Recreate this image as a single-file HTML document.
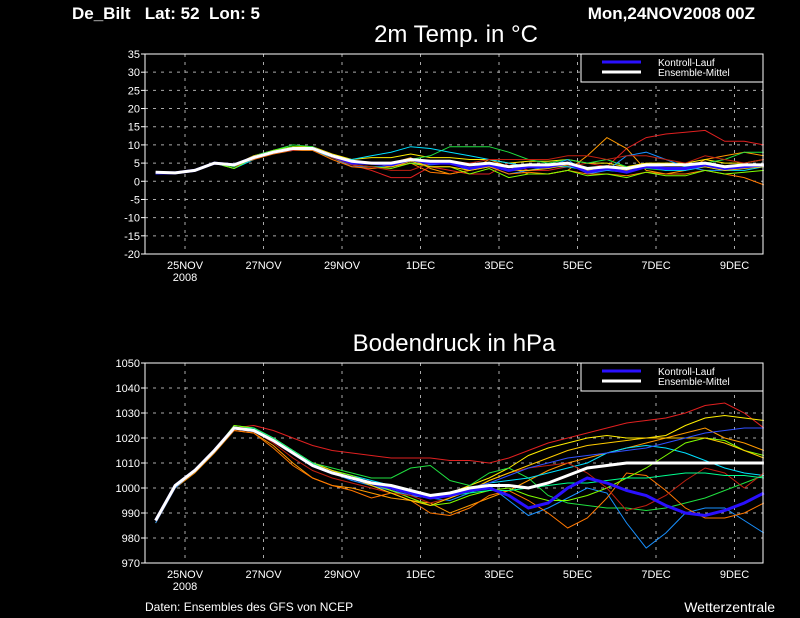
<!DOCTYPE html>
<html><head><meta charset="utf-8">
<style>
html,body{margin:0;padding:0;background:#000;}
svg{display:block;}
text{font-family:"Liberation Sans",sans-serif;fill:#fff;}
</style></head>
<body>
<svg id="c" width="800" height="618" viewBox="0 0 800 618" xmlns="http://www.w3.org/2000/svg">
<rect x="0" y="0" width="800" height="618" fill="#000"/>
<text x="72" y="19" font-size="17" font-weight="bold" xml:space="preserve">De_Bilt   Lat: 52  Lon: 5</text>
<text x="755" y="19" font-size="17" font-weight="bold" text-anchor="end">Mon,24NOV2008 00Z</text>
<text x="456" y="42" font-size="24" text-anchor="middle">2m Temp. in °C</text>
<text x="454" y="351" font-size="24" text-anchor="middle">Bodendruck in hPa</text>
<text x="145" y="611" font-size="12">Daten: Ensembles des GFS von NCEP</text>
<text x="775" y="612" font-size="14" text-anchor="end">Wetterzentrale</text>
<g id="g1"></g>
<g id="g2"></g>
</svg>
<script>
const dayStart = 0.25, dayStep = 0.5;
const dateTicks = [1,3,5,7,9,11,13,15];
const dateLabels = ["25NOV","27NOV","29NOV","1DEC","3DEC","5DEC","7DEC","9DEC"];
const tempTicks = [-20,-15,-10,-5,0,5,10,15,20,25,30,35];
const presTicks = [970,980,990,1000,1010,1020,1030,1040,1050];
const memberColors = ["#e02020","#ff9900","#ffee00","#20e040","#00e0ff","#1890ff","#ff7700","#80ff00","#c02010","#ffcc00","#00ff90","#3050ff"];

const tempMean = [2.5,2.3,3,5,4.5,6.5,8,9,9,7,5.5,5,5,6,5.5,5.5,4.5,5,4,4.5,4.5,5,3.5,4,3.5,4.5,4.5,4.5,5,4,4.5,4.5];
const tempControl = [2.3,2.3,3,5,4.5,6.5,8,9,9,7,5,5,4.5,6,5,5,3.5,4.5,3,4,4,5,2.5,3.5,2.5,4,3.5,3.5,4.5,3.5,4,4.5];
const tempM1 = [2.5,2.3,3,5,4,6,8,9,9,6.5,4.5,3,1,1,4,3,2,2,5,3,3,4,5,4,9,12,13,13.5,14,11,11,10];
const tempM2 = [2.5,2.3,3,5,4.5,6.5,8,9,9,7,5,5,5,6.5,3.5,2,3,6,4,2,2,3,7,12,9,3,2,3,6,7,8,7];
const tempM3 = [2.5,2.3,3,5,4.5,7,8.5,9.5,9.5,7.5,6,6.5,6.5,7.5,6.5,6.5,6,6,5,5.5,5.5,6,5,5,4,5,5,5,6,5,5,6];
const tempM4 = [2.5,2.3,3,5,4,7,8.5,10,9.5,7,5,5,5,6,7,9.5,9.5,9.5,8,6,5,6,5,6,4,3.5,3,4,5,6,8,8];
const tempM5 = [2.5,2.3,3,5,3.5,6,8,8.5,8.5,6.5,6,7,8,9.5,9,8,7,6,5,4,4,4,3,3,2.5,4,3,3,4,3,3,4];
const tempM6 = [2,2.3,3,5,4.5,6.5,8,9,9,6.5,4,4,4,5,4.5,5,3,4,2,3,4,6,2,3,7,8,6,4,3,3,4,4];
const tempM7 = [2.5,2.3,3,5,4.5,6,7.5,8.5,8.5,6,4,3.5,4,5,2.5,2,3,4,2,2.5,2,3,2,2,1.5,2.5,2,2,3,2,1,-1];
const tempM8 = [2.5,2.3,3,5,3.5,6.5,8.5,9.5,9,6.5,4.5,4,3.5,5,4,4,2,3.5,1,2,2,3,1.5,2,1,2.5,1.5,1.5,3,2,2.5,3];
const tempM9 = [2.5,2.3,3,5,4.5,6.5,8,8.5,9,6.5,4.5,4,3,3,5,5.5,5,6,6,6,6,7,7,6,7,7,6,5,7,6,5,6];
const tempM10 = [2.5,2.3,3,5,4.5,7,8,9,9,7,5,5,4,5.5,4,4,3,4,3,3,3.5,4.5,3,3.5,3,4,3.5,3.5,4,3,3.5,4];
const tempMembers = [tempM1,tempM2,tempM3,tempM4,tempM5,tempM6,tempM7,tempM8,tempM9,tempM10];

const presMean = [987,1001,1007,1015,1024,1023,1019,1014,1009,1006,1004,1002,1001,999,997,998,1000,1001,1001,1000,1002,1005,1008,1009,1010,1010,1010,1010,1010,1010,1010,1010];
const presControl = [987,1001,1007,1015,1024,1023,1019,1014,1009,1006,1004,1002,1000,998,996,997,999,1000,997,992,994,1000,1004,1002,999,997,993,990,989,991,994,998];
const presM1 = [987,1001,1007,1015,1024,1025,1023,1020,1017,1015,1014,1013,1012,1012,1012,1011,1011,1010,1012,1015,1018,1020,1022,1024,1026,1027,1028,1030,1033,1034,1030,1024];
const presM2 = [986,1000,1006,1014,1023,1022,1017,1010,1004,1001,1000,998,996,995,994,990,993,996,999,1003,1007,1010,1012,1014,1016,1018,1020,1022,1024,1020,1018,1015];
const presM3 = [987,1001,1007,1015,1024,1024,1020,1015,1010,1006,1004,1002,999,997,996,998,1001,1004,1008,1013,1016,1018,1020,1021,1020,1020,1021,1025,1028,1029,1028,1027];
const presM4 = [987,1001,1007,1015,1025,1024,1020,1015,1010,1008,1006,1004,1004,1008,1009,1003,1001,1006,1008,1004,997,994,993,992,992,991,992,994,996,999,1002,1005];
const presM5 = [987,1001,1007,1015,1024,1023,1019,1014,1010,1007,1005,1003,1001,999,996,997,1000,1002,1003,1004,1006,1008,1010,1014,1016,1017,1016,1014,1011,1008,1006,1005];
const presM6 = [986,1000,1007,1015,1024,1023,1019,1014,1009,1006,1003,1001,999,997,996,995,998,1001,995,989,992,996,1000,998,986,976,982,990,992,992,987,982];
const presM7 = [987,1001,1007,1015,1023,1022,1016,1009,1004,1001,999,996,998,995,990,989,992,997,999,995,990,984,988,996,1006,1005,999,992,988,988,990,994];
const presM8 = [987,1001,1007,1015,1025,1024,1020,1015,1010,1007,1005,1002,999,996,993,994,997,999,1000,997,995,995,997,1000,1004,1008,1013,1018,1020,1019,1015,1013];
const presM9 = [987,1001,1007,1015,1024,1023,1018,1012,1007,1004,1002,1000,998,997,994,996,999,1003,1006,1008,1009,1010,1006,1000,991,993,997,1003,1008,1006,1000,1006];
const presM10 = [987,1001,1007,1015,1024,1024,1020,1015,1010,1007,1004,1001,998,995,993,996,999,1003,1006,1009,1012,1015,1017,1018,1019,1020,1020,1020,1020,1018,1015,1012];
const presM11 = [987,1001,1007,1015,1024,1024,1020,1015,1010,1006,1004,1002,1000,998,997,997,998,999,999,1000,1001,1002,1002,1003,1004,1004,1005,1006,1006,1005,1005,1004];
const presM12 = [987,1001,1007,1015,1024,1023,1019,1014,1009,1006,1004,1002,1000,998,997,998,1000,1002,1005,1008,1010,1012,1013,1014,1015,1016,1018,1020,1022,1023,1024,1024];
const presMembers = [presM1,presM2,presM3,presM4,presM5,presM6,presM7,presM8,presM9,presM10,presM11,presM12];

const NS = "http://www.w3.org/2000/svg";
function mk(tag, attrs, parent){ const e=document.createElementNS(NS,tag); for(const k in attrs) e.setAttribute(k,attrs[k]); parent.appendChild(e); return e; }
const X0 = 145, X1 = 763;
function xScale(d){ return 145.75 + d*39.25; }

function panel(g, top, bottom, vmin, vmax, ticks, members, ctrl, mean, prefix){
  const y = v => bottom - (v - vmin)/(vmax - vmin)*(bottom - top);
  ticks.forEach((t,i)=>{
    const l = mk("line",{x1:X0,x2:X1,y1:y(t),y2:y(t),stroke:"#aaa","stroke-width":1,"stroke-dasharray":"3,5"},g);
    
    
    const tk = mk("line",{x1:X0-4,x2:X0,y1:y(t),y2:y(t),stroke:"#fff"},g);
    
    
    const tx = mk("text",{x:X0-5,y:y(t)+4,"font-size":11,"text-anchor":"end"},g);
    tx.textContent = t;
    
    
  });
  dateTicks.forEach((d,i)=>{
    const xx = xScale(d);
    const l = mk("line",{x1:xx,x2:xx,y1:top,y2:bottom,stroke:"#aaa","stroke-width":1,"stroke-dasharray":"3,5"},g);
    
    
    const tx = mk("text",{x:xx,y:bottom+15,"font-size":11,"text-anchor":"middle"},g);
    tx.textContent = dateLabels[i];
    
    
  });
  const yr = mk("text",{x:xScale(1),y:bottom+27,"font-size":11,"text-anchor":"middle"},g);
  yr.textContent = "2008";
  
  
  const pts = arr => arr.map((v,i)=>xScale(dayStart+i*dayStep).toFixed(1)+","+y(v).toFixed(1)).join(" ");
  members.forEach((m,i)=>{
    const p = mk("polyline",{points:pts(m),fill:"none",stroke:memberColors[i%memberColors.length],"stroke-width":1},g);
    
    
  });
  const c = mk("polyline",{points:pts(ctrl),fill:"none",stroke:"#2a10ff","stroke-width":3},g);
  
  
  const mn = mk("polyline",{points:pts(mean),fill:"none",stroke:"#fff","stroke-width":3},g);
  
  
  const f = mk("rect",{x:X0,y:top,width:X1-X0,height:bottom-top,fill:"none",stroke:"#fff","stroke-width":1},g);
  
  
  const lg = mk("g",{},g);
  
  
  mk("rect",{x:581,y:top,width:X1-581,height:28,fill:"#000",stroke:"#fff","stroke-width":1},lg);
  mk("line",{x1:602,x2:641,y1:top+8,y2:top+8,stroke:"#2a10ff","stroke-width":3},lg);
  mk("line",{x1:602,x2:641,y1:top+18,y2:top+18,stroke:"#fff","stroke-width":3},lg);
  const t1 = mk("text",{x:658,y:top+12,"font-size":10},lg); t1.textContent="Kontroll-Lauf";
  
  
  const t2 = mk("text",{x:658,y:top+22,"font-size":10},lg); t2.textContent="Ensemble-Mittel";
  
  
}
panel(document.getElementById("g1"), 54, 254, -20, 35, tempTicks, tempMembers, tempControl, tempMean, "temp");
panel(document.getElementById("g2"), 363, 563, 970, 1050, presTicks, presMembers, presControl, presMean, "pres");
</script>
</body></html>
